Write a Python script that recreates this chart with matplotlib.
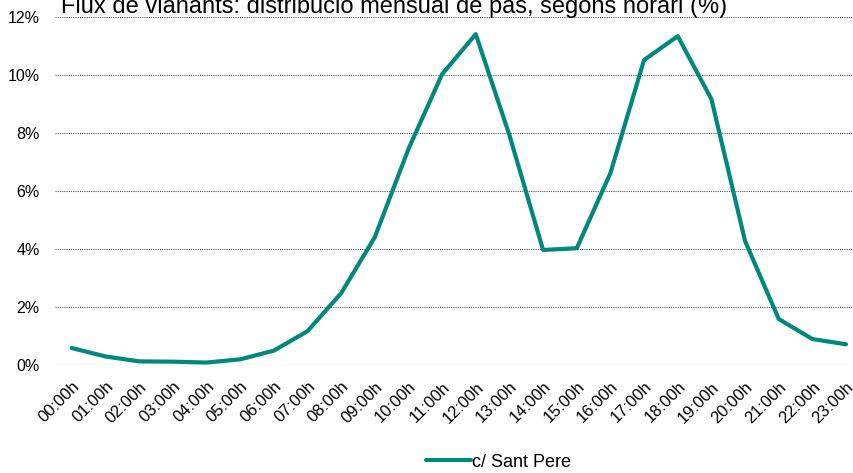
import matplotlib.pyplot as plt
from matplotlib.ticker import FuncFormatter

plt.rcParams['font.family'] = ['Liberation Sans', 'DejaVu Sans']

# Hourly share of pedestrian flow (%)
hours = ["%02d:00h" % h for h in range(24)]
sant_pere = [0.59, 0.30, 0.13, 0.12, 0.09, 0.20, 0.50, 1.17, 2.48, 4.41,
             7.45, 10.03, 11.41, 7.93, 3.97, 4.03, 6.62, 10.52, 11.34, 9.17,
             4.28, 1.59, 0.90, 0.72]

fig = plt.figure(figsize=(8.54, 4.73), dpi=100)
ax = fig.add_axes([0.0644, 0.228, 0.946, 0.736])

ax.plot(range(len(hours)), sant_pere, color="#00897B", lw=3, label="c/ Sant Pere",
        solid_joinstyle="round", solid_capstyle="round")

ax.set_xlim(-0.5, len(hours) - 0.5)
ax.set_ylim(0, 12)
ax.set_yticks(range(0, 13, 2))
ax.yaxis.set_major_formatter(FuncFormatter(lambda v, p: "%d%%" % v))
ax.set_xticks(range(len(hours)))
ax.set_xticklabels(hours, rotation=45, ha="right", rotation_mode="anchor", fontsize=12)
ax.tick_params(axis="y", labelsize=11.5, length=0, pad=11)
ax.tick_params(axis="x", length=0, pad=10)
ax.grid(axis="y", color="#555555", linestyle=(0, (1, 1)), lw=0.8)
ax.set_axisbelow(True)
for s in ax.spines.values():
    s.set_visible(False)

fig.text(0.072, 0.9725, "Flux de vianants: distribució mensual de pas, segons horari (%)",
         fontsize=17, va="baseline", ha="left")

fig.legend(loc="center", bbox_to_anchor=(0.584, 0.023), frameon=False, fontsize=13,
           handlelength=2.5, handletextpad=0.05)

fig.savefig("out.png", dpi=100)
